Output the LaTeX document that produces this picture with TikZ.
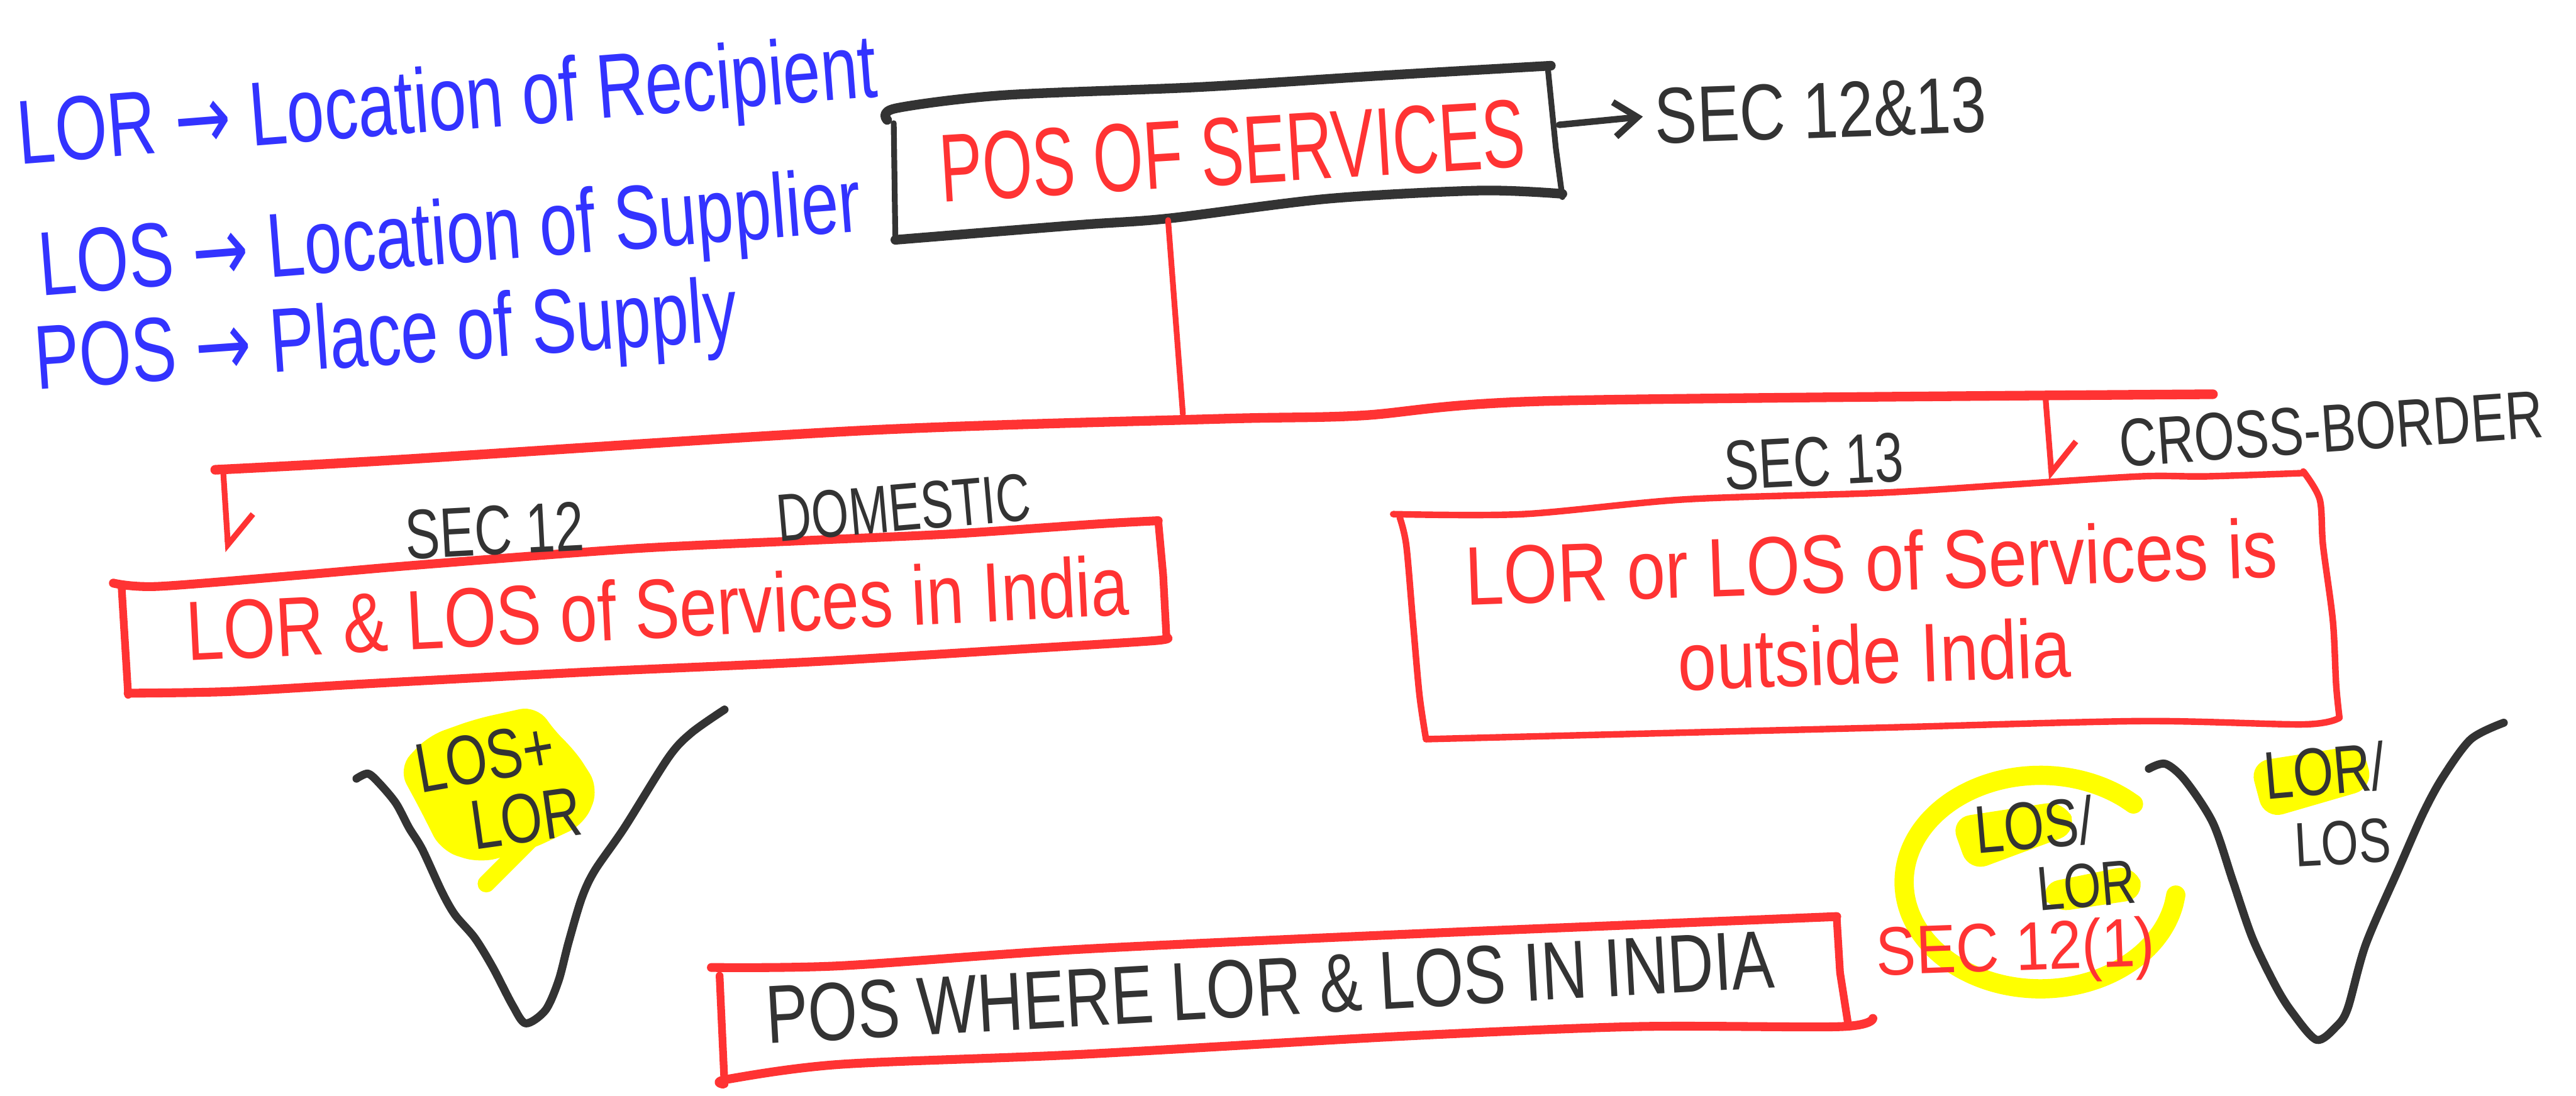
\documentclass[tikz,border=0pt]{standalone}
\usepackage{fontspec}
\setmainfont{Liberation Sans}
\newfontfamily\arrowfont{DejaVu Sans}
\usetikzlibrary{arrows.meta}

\definecolor{penred}{RGB}{255,51,51}
\definecolor{penblue}{RGB}{51,51,255}
\definecolor{penink}{RGB}{51,51,51}
\definecolor{marker}{RGB}{255,255,0}
\newcommand{\hand}[2]{\fontsize{#1}{#2}\selectfont}
\newcommand{\goesto}{{\arrowfont →}}

\begin{document}
\begin{tikzpicture}[x=0.03cm,y=-0.03cm,
    inkline/.style={draw=penink,line width=4.2pt,line cap=round,line join=round},
    redline/.style={draw=penred,line width=4pt,line cap=round,line join=round},
    hilite/.style={fill=marker,draw=marker,line width=4pt,rounded corners=8pt},
    harpoon/.style={-{Straight Barb[left,length=15pt,width=28pt]}},
    chevron/.style={-{Straight Barb[length=12pt,width=18pt]}},
    bluetxt/.style={text=penblue,font=\hand{35pt}{42pt},anchor=base west,inner sep=0pt},
    inktxt/.style={text=penink,font=\hand{27pt}{32pt},inner sep=0pt},
    redtxt/.style={text=penred,font=\hand{35pt}{40pt},inner sep=0pt}]
\useasboundingbox (0,0) rectangle (1568,667);

% yellow marker
\fill[hilite] (245,468) -- (262,450) -- (290,440) -- (326,432) -- (336,447) -- (348,458)
    -- (362,480) -- (354,500) -- (322,515) -- (292,523) -- (270,516) -- (258,492) -- cycle;
\draw[marker,line width=9pt,line cap=round] (326,508) -- (296,538);
\fill[hilite] (1190,500) -- (1255,490) -- (1262,505) -- (1200,528) -- cycle;
\fill[hilite] (1244,540) -- (1298,529) -- (1303,545) -- (1250,553) -- cycle;
\fill[hilite] (1372,466) -- (1436,456) -- (1442,478) -- (1380,496) -- cycle;
\draw[marker,line width=10pt,line cap=round] plot[domain=47:353,samples=60,smooth]
    ({1242+83*cos(\x)},{537-65*sin(\x)});

% top box
\draw[inkline,line width=5pt] plot[smooth,tension=.5] coordinates {(540,73) (545,66) (610,58) (730,53) (841,46) (944,40)};
\draw[inkline,line width=5pt] plot[smooth,tension=.5] coordinates {(545,146) (656,137) (711,133) (808,121) (901,116) (951,118)};
\draw[inkline,line width=3pt] (544,75) -- (545,146);
\draw[inkline,line width=3pt] (942,40) -- (947,90) -- (951,120);
\coordinate (pos-e) at (949,76);
\coordinate (stem-top) at (711,134);
\coordinate (stem-bot) at (720,252);

% tree
\draw[redline,line width=3pt] (stem-top) -- (stem-bot);
\draw[redline,line width=5pt] plot[smooth,tension=.5] coordinates {(131,286) (241,280) (527,262) (742,255) (828,253) (946,244) (1347,240)};
\coordinate (bar-w) at (136,289);
\coordinate (dom-in) at (139,336);
\coordinate (bar-e) at (1245,241);
\coordinate (xb-in) at (1249,292);
\draw[redline,line width=3pt,harpoon] (bar-w) -- (dom-in);
\draw[redline,line width=3pt,harpoon] (bar-e) -- (xb-in);

% domestic box
\draw[redline,line width=4.6pt] plot[smooth,tension=.5] coordinates {(69,355) (96,357) (184,350) (254,344) (386,334) (492,329) (580,325) (668,319) (705,317)};
\draw[redline] (705,317) -- (708,350) -- (710,388);
\draw[redline,line width=4.6pt] plot[smooth,tension=.5] coordinates {(710,388) (703,390) (624,395) (492,403) (360,409) (228,416) (140,421) (78,422)};
\draw[redline] (74,357) -- (78,423);

% cross-border box
\draw[redline,line width=3.4pt] plot[smooth,tension=.5] coordinates {(848,313) (927,313) (1026,304) (1145,300) (1224,295) (1303,290) (1343,290) (1402,288)};
\draw[redline,line width=3.4pt] plot[smooth,tension=.5] coordinates {(1402,287) (1412,304) (1414,332) (1420,378) (1422,417) (1424,437)};
\draw[redline,line width=3.4pt] plot[smooth,tension=.5] coordinates {(1424,437) (1402,441) (1303,439) (1145,443) (986,447) (868,450)};
\draw[redline,line width=3.4pt] plot[smooth,tension=.5] coordinates {(868,450) (864,423) (860,378) (856,332) (852,315)};

% result box
\draw[redline,line width=4.6pt] plot[smooth,tension=.5] coordinates {(433,589) (511,588) (656,578) (850,569) (995,563) (1118,558)};
\draw[redline] (1118,559) -- (1120,592) -- (1125,624);
\draw[redline,line width=4.6pt] plot[smooth,tension=.5] coordinates {(1140,620) (1120,625) (995,625) (850,631) (656,642) (511,648) (443,657) (440,660)};
\draw[redline] (438,594) -- (441,660);

% funnels
\draw[inkline] plot[smooth,tension=.5] coordinates {(217,474) (224,471) (231,477) (241,489) (249,504) (257,517) (269,543) (277,557) (289,571) (300,589) (312,612) (320,623) (332,615) (340,597) (346,574) (354,547) (362,530) (380,504) (407,461) (421,446) (441,432)};
\draw[inkline] plot[smooth,tension=.5] coordinates {(1308,468) (1318,465) (1330,475) (1347,501) (1359,536) (1371,571) (1385,600) (1395,616) (1410,633) (1422,625) (1429,614) (1440,575) (1460,529) (1475,495) (1487,473) (1504,450) (1524,440)};

% legend
\node[bluetxt,rotate=4.5,yscale=1.35] (legLOR) at (12,100) {LOR \goesto{} Location of Recipient};
\node[bluetxt,rotate=4.5,yscale=1.35] (legLOS) at (25,180) {LOS \goesto{} Location of Supplier};
\node[bluetxt,rotate=4,yscale=1.35] (legPOS) at (22,237) {POS \goesto{} Place of Supply};

% labels
\node[redtxt,font=\hand{33.5pt}{40pt},rotate=3.5,yscale=1.5] (title) at (750,92) {POS OF SERVICES};
\node[inktxt,font=\hand{33pt}{40pt},rotate=2,yscale=1.25,anchor=west,inner sep=6pt] (secboth) at (1000,71) {SEC 12\&13};
\draw[inkline,line width=3.4pt,chevron] (pos-e) -- (secboth.west);
\node[inktxt,rotate=3,yscale=1.35] (sec12) at (301,323) {SEC 12};
\node[inktxt,font=\hand{25pt}{30pt},rotate=5,yscale=1.4] (domestic) at (550,309) {DOMESTIC};
\node[inktxt,rotate=3,yscale=1.35] (sec13) at (1104,281) {SEC 13};
\node[inktxt,rotate=4,yscale=1.3] (crossb) at (1419,261) {CROSS-BORDER};
\node[redtxt,rotate=2.8,yscale=1.25] (domtext) at (400,370) {LOR \& LOS of Services in India};
\node[redtxt,font=\hand{36pt}{40pt},align=center,rotate=2,yscale=1.2] (xbtext) at (1140,370) {LOR or LOS of Services is\\outside India};
\node[inktxt,font=\hand{33pt}{40pt},rotate=3.2,yscale=1.3] (result) at (773,601) {POS WHERE LOR \& LOS IN INDIA};
\node[redtxt,font=\hand{31pt}{36pt},rotate=2,yscale=1.15] (sec121) at (1227,580) {SEC 12(1)};
\node[inktxt,rotate=5,yscale=1.3] (midLOS) at (1238,502) {LOS/};
\node[inktxt,font=\hand{25pt}{30pt},rotate=5,yscale=1.3] (midLOR) at (1270,539) {LOR};
\node[inktxt,rotate=5,yscale=1.3] (rightLOR) at (1415,469) {LOR/};
\node[inktxt,font=\hand{25pt}{30pt},rotate=3,yscale=1.3] (rightLOS) at (1426,513) {LOS};
\node[inktxt,font=\hand{28pt}{32pt},rotate=10,yscale=1.3] (leftLOS) at (295,461) {LOS+};
\node[inktxt,font=\hand{28pt}{32pt},rotate=8,yscale=1.3] (leftLOR) at (320,498) {LOR};
\end{tikzpicture}
\end{document}
